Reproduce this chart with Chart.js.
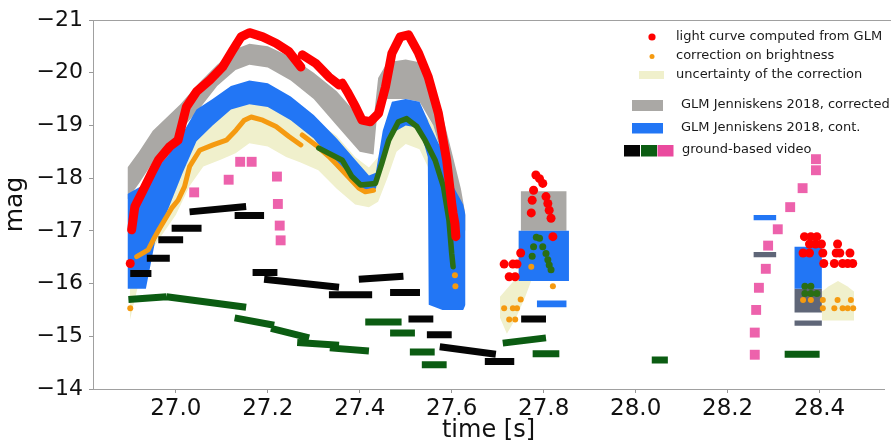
<!DOCTYPE html>
<html>
<head>
<meta charset="utf-8">
<script src="https://cdn.jsdelivr.net/npm/chart.js@4/dist/chart.umd.min.js"></script>
<style>
  html, body { margin: 0; padding: 0; background: #fff; }
</style>
</head>
<body>
<canvas id="c" width="891" height="445"></canvas>
<script>
// axis ticks
const xTicks = [27.0, 27.2, 27.4, 27.6, 27.8, 28.0, 28.2, 28.4];
const yTicks = [-21, -20, -19, -18, -17, -16, -15, -14];

// light curve computed from GLM (continuous part, null = gap)
const redTime = [26.904, 26.911, 26.929, 26.947, 26.962, 26.987, 27.005, 27.023, 27.045, 27.074, 27.102, 27.124, 27.142, 27.160, 27.189, 27.218, 27.246, 27.272, 27.273,
  27.275, 27.304, 27.333, 27.355, 27.362, 27.373, 27.391, 27.405, 27.423, 27.441, 27.456, 27.470, 27.488, 27.506, 27.528, 27.549, 27.571, 27.589, 27.600, 27.603, 27.607, 27.609];
const redMag = [-17.02, -17.46, -17.77, -18.09, -18.34, -18.60, -18.72, -19.35, -19.64, -19.86, -20.11, -20.43, -20.68, -20.76, -20.68, -20.56, -20.40, -20.11, null,
  -20.34, -20.18, -19.92, -19.77, -19.80, -19.64, -19.35, -19.10, -19.07, -19.23, -19.73, -20.37, -20.68, -20.72, -20.37, -19.92, -19.23, -18.34, -17.52, -17.33, -17.14, -16.89];
// light curve, isolated dots
const redDotTime = [26.901, 27.783, 27.791, 27.798, 27.778, 27.805, 27.775, 27.809, 27.812, 27.773, 27.816, 27.820, 27.750, 27.714, 27.733, 27.742, 27.725, 27.738,
  28.367, 28.381, 28.394, 28.378, 28.391, 28.404, 28.439, 28.364, 28.378, 28.407, 28.436, 28.444, 28.466, 28.409, 28.432, 28.450, 28.461, 28.472];
const redDotMag = [-16.38, -18.06, -17.99, -17.90, -17.77, -17.65, -17.58, -17.52, -17.39, -17.34, -17.24, -16.89, -16.58, -16.37, -16.37, -16.37, -16.13, -16.13,
  -16.89, -16.89, -16.89, -16.75, -16.75, -16.75, -16.75, -16.58, -16.58, -16.58, -16.58, -16.58, -16.58, -16.38, -16.38, -16.38, -16.38, -16.38];

// correction on brightness
const orangeTime = [26.915, 26.940, 26.951, 26.965, 26.976, 26.991, 27.005, 27.019, 27.030, 27.052, 27.081, 27.110, 27.131, 27.149, 27.164, 27.189, 27.218, 27.246, 27.272, 27.273,
  27.275, 27.304, 27.333, 27.351, 27.398, 27.412, 27.430];
const orangeMag = [-16.51, -16.64, -16.83, -17.05, -17.21, -17.43, -17.58, -17.84, -18.22, -18.53, -18.63, -18.72, -18.91, -19.10, -19.16, -19.10, -18.98, -18.79, -18.63, null,
  -18.82, -18.63, -18.41, -18.25, -17.81, -17.74, -17.77];
const orangeDotTime = [26.901, 27.607, 27.608, 27.773, 27.820, 27.750, 27.714, 27.733, 27.742, 27.725, 27.738,
  28.364, 28.381, 28.407, 28.439, 28.468, 28.407, 28.432, 28.450, 28.461, 28.473];
const orangeDotMag = [-15.53, -16.16, -15.95, -16.32, -15.95, -15.70, -15.53, -15.53, -15.53, -15.32, -15.32,
  -15.69, -15.69, -15.69, -15.69, -15.69, -15.53, -15.53, -15.53, -15.53, -15.53];

// correction, dark green part
const greenTime = [27.311, 27.362, 27.383, 27.402, 27.434, 27.448, 27.463, 27.484, 27.502, 27.524, 27.542, 27.564, 27.582, 27.594, 27.597, 27.600, 27.603];
const greenMag = [-18.57, -18.34, -18.03, -17.87, -17.90, -18.28, -18.72, -19.07, -19.13, -18.98, -18.72, -18.34, -17.84, -17.20, -16.89, -16.57, -16.32];
const greenDotTime = [27.784, 27.791, 27.778, 27.798, 27.775, 27.805, 27.809, 27.812, 27.816, 28.368, 28.381, 28.368, 28.381, 28.394];
const greenDotMag = [-16.88, -16.86, -16.70, -16.70, -16.52, -16.57, -16.45, -16.35, -16.26, -15.95, -15.95, -15.81, -15.81, -15.81];

// uncertainty of the correction
const yellowTime = [26.900, 26.93, 26.96, 27.00, 27.03, 27.06, 27.10, 27.13, 27.16, 27.20, 27.24, 27.27, 27.31, 27.35, 27.39, 27.42, 27.44, 27.46, 27.48, 27.50, 27.53, 27.56, 27.58, 27.60, 27.61];
const yellowUp = [-16.9, -17.3, -17.6, -18.0, -18.6, -18.9, -19.2, -19.4, -19.6, -19.55, -19.35, -19.2, -19.05, -18.8, -18.4, -18.2, -18.4, -18.9, -19.3, -19.45, -19.35, -19.0, -18.4, -17.3, -16.5];
const yellowLow = [-15.3, -16.4, -16.8, -17.3, -17.85, -18.22, -18.36, -18.47, -18.66, -18.6, -18.4, -18.3, -18.15, -17.8, -17.5, -17.45, -17.55, -18.0, -18.5, -18.65, -18.55, -18.0, -17.4, -16.2, -15.6];
const yellow2Time = [27.705, 27.72, 27.74, 27.76, 27.775];
const yellow2Up = [-15.75, -15.9, -16.1, -16.3, -16.45];
const yellow2Low = [-15.35, -15.05, -15.35, -15.75, -16.1];
const yellow3Time = [28.405, 28.42, 28.44, 28.46, 28.475];
const yellow3Up = [-15.85, -15.95, -16.05, -15.95, -15.85];
const yellow3Low = [-15.3, -15.3, -15.3, -15.3, -15.3];

// GLM Jenniskens 2018, corrected
const grayTime = [26.895, 26.92, 26.95, 26.98, 27.01, 27.05, 27.09, 27.13, 27.16, 27.20, 27.25, 27.30, 27.35, 27.40, 27.43, 27.44, 27.46, 27.50, 27.53, 27.56, 27.58, 27.60, 27.62, 27.63];
const grayUp = [-18.2, -18.5, -18.9, -19.15, -19.4, -19.8, -20.15, -20.45, -20.55, -20.5, -20.3, -20.0, -19.65, -19.15, -19.1, -19.9, -20.2, -20.25, -20.2, -19.75, -19.2, -18.5, -17.8, -17.3];
const grayLow = [-17.6, -17.9, -18.3, -18.55, -18.9, -19.3, -19.75, -20.05, -20.15, -20.1, -19.85, -19.5, -19.0, -18.5, -18.45, -19.4, -19.5, -19.5, -19.45, -19.0, -18.4, -17.6, -17.1, -17.0];

// GLM Jenniskens 2018, cont.
const blueTime = [26.895, 26.935, 26.955, 26.985, 27.015, 27.045, 27.08, 27.12, 27.16, 27.20, 27.25, 27.30, 27.35, 27.39, 27.42, 27.435, 27.45, 27.47, 27.50, 27.53, 27.548, 27.55, 27.58, 27.60, 27.625, 27.63];
const blueUp = [-17.7, -17.9, -18.15, -18.45, -18.85, -19.3, -19.5, -19.75, -19.85, -19.8, -19.55, -19.2, -18.75, -18.35, -18.05, -18.1, -18.9, -19.45, -19.5, -19.45, -19.1, -19.05, -18.5, -17.9, -17.5, -17.3];
const blueLow = [-15.9, -15.9, -16.8, -17.45, -18.1, -18.7, -19.0, -19.3, -19.4, -19.35, -19.1, -18.75, -18.2, -17.85, -17.75, -17.8, -18.3, -18.85, -19.0, -18.95, -18.4, -15.6, -15.5, -15.5, -15.5, -15.6];

// isolated GLM blocks: [t0, t1, top mag, bottom mag]
const blueBlocks = [[27.745, 27.855, -17.0, -16.05], [27.785, 27.85, -15.68, -15.55], [28.256, 28.306, -17.3, -17.2], [28.345, 28.405, -16.7, -15.9]];
const grayBlocks = [[27.75, 27.85, -17.75, -17.0]];
const slateBlocks = [[28.256, 28.306, -16.6, -16.5], [28.345, 28.405, -15.9, -15.45], [28.345, 28.405, -15.3, -15.2]];

// ground-based video: [t0, t1, mag0, mag1]
const blackVideo = [[26.901, 26.947, -16.19, -16.19], [26.937, 26.987, -16.48, -16.48], [26.962, 27.016, -16.83, -16.83], [26.991, 27.056, -17.05, -17.05],
  [27.030, 27.153, -17.36, -17.46], [27.128, 27.192, -17.29, -17.29], [27.167, 27.221, -16.21, -16.21], [27.192, 27.355, -16.08, -15.93],
  [27.333, 27.427, -15.79, -15.79], [27.398, 27.495, -16.08, -16.14], [27.466, 27.531, -15.83, -15.83], [27.506, 27.560, -15.33, -15.33],
  [27.546, 27.600, -15.03, -15.03], [27.574, 27.696, -14.80, -14.66], [27.672, 27.736, -14.52, -14.52], [27.751, 27.805, -15.33, -15.33]];
const greenVideo = [[26.897, 26.98, -15.70, -15.75], [26.98, 27.153, -15.75, -15.55], [27.128, 27.214, -15.35, -15.21], [27.207, 27.290, -15.15, -14.97],
  [27.264, 27.355, -14.88, -14.83], [27.335, 27.420, -14.78, -14.72], [27.412, 27.491, -15.27, -15.27], [27.466, 27.520, -15.06, -15.06],
  [27.509, 27.563, -14.70, -14.70], [27.535, 27.589, -14.46, -14.46], [27.711, 27.805, -14.87, -14.97], [27.776, 27.834, -14.67, -14.67],
  [28.035, 28.070, -14.55, -14.55], [28.324, 28.400, -14.66, -14.66]];
const pinkTime = [27.040, 27.115, 27.140, 27.165, 27.220, 27.222, 27.226, 27.228, 28.392, 28.392, 28.363, 28.336, 28.309, 28.288, 28.283, 28.268, 28.262, 28.259, 28.259];
const pinkMag = [-17.73, -17.97, -18.31, -18.31, -18.03, -17.51, -17.10, -16.82, -18.36, -18.15, -17.81, -17.45, -17.03, -16.72, -16.28, -15.92, -15.50, -15.07, -14.65];

const C_RED = '#ff0000', C_ORANGE = '#f59a10', C_GREEN = '#2a6e14';
const C_YELLOW = '#f0f0cc', C_GRAY = '#aaa8a5', C_BLUE = '#2276f5', C_SLATE = '#5f6678';
const C_VBLACK = '#050505', C_VGREEN = '#0b5c12', C_VPINK = 'rgba(234,70,158,0.85)';

function pts(ts, ms) { return ts.map((t, i) => ({x: t, y: ms[i]})); }

function segPts(segs) {
  const out = [];
  for (const s of segs) {
    out.push({x: s[0], y: s[2]}, {x: s[1], y: s[3]}, {x: s[1], y: null});
  }
  return out;
}

function band(ts, up, low, color, order) {
  return [
    {data: pts(ts, up), fill: '+1', backgroundColor: color, borderWidth: 0, pointRadius: 0, order: order},
    {data: pts(ts, low), fill: false, borderWidth: 0, pointRadius: 0, order: order}
  ];
}

function blocks(list, color, order) {
  let out = [];
  for (const b of list) {
    out = out.concat(band([b[0], b[1]], [b[2], b[2]], [b[3], b[3]], color, order));
  }
  return out;
}

let datasets = [];
datasets = datasets.concat(band(yellowTime, yellowUp, yellowLow, C_YELLOW, 9));
datasets = datasets.concat(band(yellow2Time, yellow2Up, yellow2Low, C_YELLOW, 9));
datasets = datasets.concat(band(yellow3Time, yellow3Up, yellow3Low, C_YELLOW, 9));
datasets = datasets.concat(band(grayTime, grayUp, grayLow, C_GRAY, 8));
datasets = datasets.concat(blocks(grayBlocks, C_GRAY, 8));
datasets = datasets.concat(band(blueTime, blueUp, blueLow, C_BLUE, 7));
datasets = datasets.concat(blocks(blueBlocks, C_BLUE, 7));
datasets = datasets.concat(blocks(slateBlocks, C_SLATE, 7));

datasets.push({data: segPts(blackVideo), borderColor: C_VBLACK, borderWidth: 7, pointRadius: 0, order: 5});
datasets.push({data: segPts(greenVideo), borderColor: C_VGREEN, borderWidth: 7, pointRadius: 0, order: 5});
datasets.push({data: pts(pinkTime, pinkMag), showLine: false, pointStyle: 'rect', pointRadius: 7,
  pointBackgroundColor: C_VPINK, pointBorderWidth: 0, order: 5});

datasets.push({data: pts(orangeTime, orangeMag), borderColor: C_ORANGE, borderWidth: 5, pointRadius: 0,
  borderCapStyle: 'round', borderJoinStyle: 'round', order: 3});
datasets.push({data: pts(orangeDotTime, orangeDotMag), showLine: false, pointRadius: 3,
  pointBackgroundColor: C_ORANGE, pointBorderWidth: 0, order: 3});
datasets.push({data: pts(greenTime, greenMag), borderColor: C_GREEN, borderWidth: 5.5, pointRadius: 0,
  borderCapStyle: 'round', borderJoinStyle: 'round', order: 2});
datasets.push({data: pts(greenDotTime, greenDotMag), showLine: false, pointRadius: 3.5,
  pointBackgroundColor: C_GREEN, pointBorderWidth: 0, order: 2});
datasets.push({data: pts(redTime, redMag), borderColor: C_RED, borderWidth: 9, pointRadius: 0,
  borderCapStyle: 'round', borderJoinStyle: 'round', order: 1});
datasets.push({data: pts(redDotTime, redDotMag), showLine: false, pointRadius: 4.5,
  pointBackgroundColor: C_RED, pointBorderWidth: 0, order: 1});

// legend drawn in the upper right corner, as in the figure
const legendBox = {
  id: 'legendBox',
  afterDraw(chart) {
    const ctx = chart.ctx;
    const a = chart.chartArea;
    ctx.save();
    // top frame line
    ctx.strokeStyle = '#a0a0a0';
    ctx.lineWidth = 1;
    ctx.beginPath();
    ctx.moveTo(a.left, a.top + 0.5);
    ctx.lineTo(chart.width, a.top + 0.5);
    ctx.stroke();

    ctx.font = '13px "DejaVu Sans"';
    ctx.fillStyle = '#1a1a1a';
    ctx.textBaseline = 'middle';
    ctx.fillText('light curve computed from GLM', 676, 37);
    ctx.fillText('correction on brightness', 676, 56);
    ctx.fillText('uncertainty of the correction', 676, 75);
    ctx.fillText('GLM Jenniskens 2018, corrected', 681, 105);
    ctx.fillText('GLM Jenniskens 2018, cont.', 681, 128);
    ctx.fillText('ground-based video', 682, 150);

    ctx.fillStyle = C_RED;
    ctx.beginPath(); ctx.arc(652, 37, 3.6, 0, Math.PI * 2); ctx.fill();
    ctx.fillStyle = C_ORANGE;
    ctx.beginPath(); ctx.arc(652, 56.5, 2.5, 0, Math.PI * 2); ctx.fill();
    ctx.fillStyle = C_YELLOW; ctx.fillRect(639, 71, 25, 8);
    ctx.fillStyle = C_GRAY; ctx.fillRect(632, 100, 31, 11);
    ctx.fillStyle = C_BLUE; ctx.fillRect(632, 123, 31, 10.5);
    ctx.fillStyle = C_VBLACK; ctx.fillRect(624, 145, 16, 11.5);
    ctx.fillStyle = C_VGREEN; ctx.fillRect(641, 145, 16, 11.5);
    ctx.fillStyle = '#ea4a9e'; ctx.fillRect(657.5, 145, 16, 11.5);
    ctx.restore();
  }
};

new Chart(document.getElementById('c'), {
  type: 'line',
  data: {datasets: datasets},
  options: {
    responsive: false,
    animation: false,
    events: [],
    layout: {padding: {top: 20, right: 3, left: 0, bottom: 0}},
    elements: {line: {tension: 0}},
    plugins: {legend: {display: false}, tooltip: {enabled: false}},
    scales: {
      x: {
        type: 'linear',
        min: 26.82,
        max: 28.54,
        afterBuildTicks: s => { s.ticks = xTicks.map(v => ({value: v})); },
        afterFit: s => { s.height = 56; },
        ticks: {
          callback: v => v.toFixed(1),
          font: {family: 'DejaVu Sans', size: 23},
          color: '#111',
          padding: 2,
          maxRotation: 0,
          autoSkip: false
        },
        grid: {display: true, drawOnChartArea: false, tickLength: 4, color: '#999'},
        border: {display: true, color: '#a0a0a0'},
        title: {display: true, text: 'time [s]', font: {family: 'DejaVu Sans', size: 24}, color: '#111', padding: 0}
      },
      y: {
        reverse: true,
        min: -21,
        max: -14,
        afterBuildTicks: s => { s.ticks = yTicks.map(v => ({value: v})); },
        afterFit: s => { s.width = 93; },
        ticks: {
          callback: v => '\u2212' + Math.abs(v),
          font: {family: 'DejaVu Sans', size: 22},
          color: '#111',
          padding: 6
        },
        grid: {display: true, drawOnChartArea: false, tickLength: 4, color: '#999'},
        border: {display: true, color: '#a0a0a0'},
        title: {display: true, text: 'mag', font: {family: 'DejaVu Sans', size: 25}, color: '#111', padding: 0}
      }
    }
  },
  plugins: [legendBox]
});
</script>
</body>
</html>
